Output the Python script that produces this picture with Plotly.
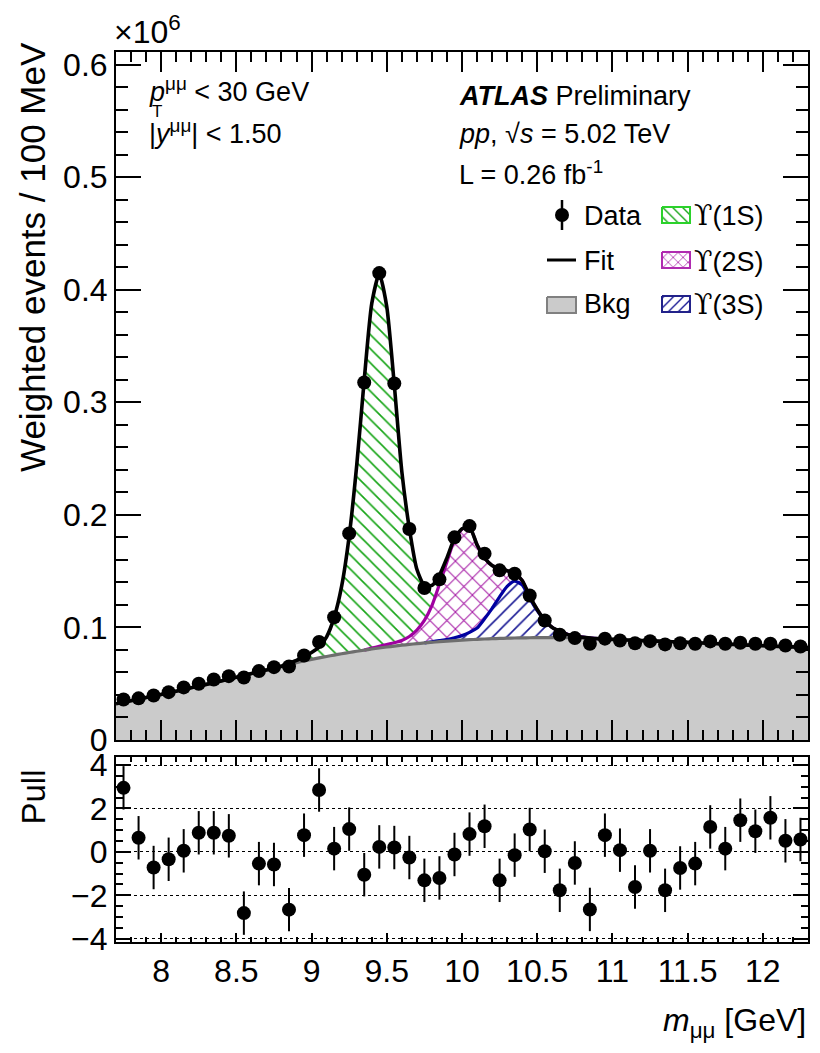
import numpy as np
import plotly.graph_objects as go

W, H = 820, 1053
FONT = "Liberation Sans, Arial, Helvetica, sans-serif"

# ---------------- data: dimuon mass histogram (100 MeV bins), values in units of 1e6
MASS_BINS = np.round(np.arange(7.75, 12.26, 0.1), 2)
DATA = [0.0360, 0.0370, 0.0395, 0.0425, 0.0467, 0.0500, 0.0538, 0.0567, 0.0555, 0.0612,
        0.0647, 0.0653, 0.0751, 0.0870, 0.1090, 0.1835, 0.3175, 0.4147, 0.3166, 0.1874,
        0.1350, 0.1427, 0.1800, 0.1900, 0.1655, 0.1507, 0.1477, 0.1284, 0.1062, 0.0935,
        0.0905, 0.0855, 0.0900, 0.0884, 0.0860, 0.0878, 0.0849, 0.0860, 0.0855, 0.0876,
        0.0855, 0.0864, 0.0855, 0.0855, 0.0840, 0.0831]

PULL = [2.95, 0.65, -0.72, -0.34, 0.05, 0.88, 0.88, 0.74, -2.82, -0.54,
        -0.58, -2.66, 0.77, 2.85, 0.15, 1.05, -1.05, 0.23, 0.20, -0.26,
        -1.31, -1.20, -0.12, 0.82, 1.18, -1.31, -0.15, 1.03, 0.03, -1.77,
        -0.51, -2.65, 0.77, 0.08, -1.62, 0.05, -1.77, -0.74, -0.54, 1.15,
        0.15, 1.46, 0.95, 1.57, 0.51, 0.57]
PULL_ERR = [1.0] * len(PULL)

# ---------------- fit model components sampled along the mass axis
CURVE_MASS = np.round(np.concatenate([np.arange(7.70, 8.81, 0.10),
                                      np.arange(8.85, 10.91, 0.05),
                                      np.arange(11.00, 12.31, 0.10)]), 2)
BKG = [0.0322, 0.0349, 0.0377, 0.0405, 0.0434, 0.0464, 0.0494, 0.0525, 0.0557, 0.0590, 0.0622, 0.0655,
       0.0671, 0.0687, 0.0702, 0.0716, 0.0729, 0.0742, 0.0754, 0.0766, 0.0777, 0.0788,
       0.0798, 0.0808, 0.0817, 0.0826, 0.0834, 0.0842, 0.0849, 0.0856, 0.0862, 0.0868,
       0.0873, 0.0878, 0.0883, 0.0887, 0.0891, 0.0894, 0.0897, 0.0900, 0.0902, 0.0904,
       0.0906, 0.0907, 0.0908, 0.0909, 0.0909, 0.0909, 0.0909, 0.0908, 0.0907, 0.0905, 0.0903, 0.0900,
       0.0894, 0.0888, 0.0883, 0.0878, 0.0873, 0.0867, 0.0861, 0.0855, 0.0849, 0.0843, 0.0837, 0.0832,
       0.0827, 0.0822]

UPS1S_MASS = np.round(np.arange(8.85, 10.01, 0.05), 2)
UPS1S = [0.0012, 0.0020, 0.0040, 0.0062, 0.0097, 0.0175, 0.0333, 0.0600, 0.1033, 0.1650,
         0.2400, 0.3060, 0.3310, 0.3000, 0.2290, 0.1500, 0.0960, 0.0540, 0.0310, 0.0180,
         0.0080, 0.0035, 0.0012, 0.0004]

UPS2S_MASS = np.round(np.arange(9.40, 10.56, 0.05), 2)
UPS2S = [0.0008, 0.0015, 0.0022, 0.0030, 0.0042, 0.0070, 0.0120, 0.0200, 0.0320, 0.0500,
         0.0690, 0.0870, 0.0945, 0.0935, 0.0740, 0.0540, 0.0380, 0.0250, 0.0140, 0.0070,
         0.0040, 0.0020, 0.0010, 0.0004]

UPS3S_MASS = np.round(np.arange(9.80, 10.91, 0.05), 2)
UPS3S = [0.0005, 0.0010, 0.0015, 0.0025, 0.0040, 0.0065, 0.0100, 0.0180, 0.0270, 0.0370,
         0.0460, 0.0505, 0.0470, 0.0350, 0.0240, 0.0150, 0.0090, 0.0055, 0.0030, 0.0015,
         0.0008, 0.0003, 0.0000]


def on_grid(masses, values):
    """Place a peak component onto the common curve grid (zero outside its window)."""
    lookup = {round(float(m), 2): v for m, v in zip(masses, values)}
    return np.array([lookup.get(round(float(m), 2), 0.0) for m in CURVE_MASS])


bkg = np.array(BKG)
s1 = on_grid(UPS1S_MASS, UPS1S)
s2 = on_grid(UPS2S_MASS, UPS2S)
s3 = on_grid(UPS3S_MASS, UPS3S)
stack3 = bkg + s3
stack2 = stack3 + s2
total = stack2 + s1

GREEN = "#16a516"
MAGENTA = "#a51aa5"
NAVY = "#1a1a95"
GREY_FILL = "#cbcbcb"
GREY_LINE = "#6e6e6e"


def hatch(shape, color, size=10, solidity=0.16):
    return dict(shape=shape, fgcolor=color, fgopacity=1, bgcolor="white", size=size, solidity=solidity)


fig = go.Figure()
line0 = dict(width=0, shape="spline", smoothing=0.6)

# stacked fills: background, then 3S, 2S, 1S hatched bands
fig.add_trace(go.Scatter(x=CURVE_MASS, y=bkg, mode="lines", line=dict(color=GREY_FILL, **line0),
                         fill="tozeroy", fillcolor=GREY_FILL, showlegend=False, hoverinfo="skip"))
fig.add_trace(go.Scatter(x=CURVE_MASS, y=stack3, mode="lines", line=dict(color=NAVY, **line0),
                         fill="tonexty", fillcolor="white", fillpattern=hatch("/", NAVY),
                         showlegend=False, hoverinfo="skip"))
fig.add_trace(go.Scatter(x=CURVE_MASS, y=stack2, mode="lines", line=dict(color=MAGENTA, **line0),
                         fill="tonexty", fillcolor="white", fillpattern=hatch("x", MAGENTA, size=12),
                         showlegend=False, hoverinfo="skip"))
fig.add_trace(go.Scatter(x=CURVE_MASS, y=total, mode="lines", line=dict(color=GREEN, **line0),
                         fill="tonexty", fillcolor="white", fillpattern=hatch("\\", GREEN),
                         showlegend=False, hoverinfo="skip"))

# component outlines
win3 = (CURVE_MASS >= 9.75) & (CURVE_MASS <= 10.9)
win2 = (CURVE_MASS >= 9.35) & (CURVE_MASS <= 10.9)
fig.add_trace(go.Scatter(x=CURVE_MASS[win3], y=stack3[win3], mode="lines",
                         line=dict(color="#0000a0", width=3.2, shape="spline", smoothing=0.6),
                         showlegend=False, hoverinfo="skip"))
fig.add_trace(go.Scatter(x=CURVE_MASS[win2], y=stack2[win2], mode="lines",
                         line=dict(color="#a000a0", width=3.2, shape="spline", smoothing=0.6),
                         showlegend=False, hoverinfo="skip"))
fig.add_trace(go.Scatter(x=CURVE_MASS, y=bkg, mode="lines",
                         line=dict(color=GREY_LINE, width=3.2, shape="spline", smoothing=0.6),
                         showlegend=False, hoverinfo="skip"))
fig.add_trace(go.Scatter(x=CURVE_MASS, y=total, mode="lines",
                         line=dict(color="black", width=3.6, shape="spline", smoothing=0.6),
                         showlegend=False, hoverinfo="skip"))

# data points
fig.add_trace(go.Scatter(x=MASS_BINS, y=DATA, mode="markers",
                         marker=dict(color="black", size=14),
                         showlegend=False, hoverinfo="skip"))

# pull panel
fig.add_trace(go.Scatter(x=MASS_BINS, y=PULL, mode="markers", xaxis="x2", yaxis="y2",
                         marker=dict(color="black", size=14),
                         error_y=dict(type="data", array=PULL_ERR, color="black", thickness=2, width=0),
                         showlegend=False, hoverinfo="skip"))

# ---------------- legend glyphs, drawn on a pixel-space overlay
def box(x0, x1, y0, y1):
    return [x0, x1, x1, x0, x0], [y0, y0, y1, y1, y0]

LEG = dict(xaxis="x3", yaxis="y3", showlegend=False, hoverinfo="skip")
fig.add_trace(go.Scatter(x=[562], y=[215], mode="markers", marker=dict(color="black", size=14),
                         error_y=dict(type="data", array=[15], color="black", thickness=2.5, width=0), **LEG))
fig.add_trace(go.Scatter(x=[547, 576], y=[260, 260], mode="lines", line=dict(color="black", width=3), **LEG))
bx, by = box(547, 576, 297, 313)
fig.add_trace(go.Scatter(x=bx, y=by, mode="lines", fill="toself", fillcolor=GREY_FILL,
                         line=dict(color="#808080", width=2), **LEG))
for yc, shape, col, edge in [(215, "\\", GREEN, "#2bd22b"), (260, "x", MAGENTA, "#b02bb0"), (304, "/", NAVY, "#22228a")]:
    bx, by = box(662, 690, yc - 8, yc + 8)
    fig.add_trace(go.Scatter(x=bx, y=by, mode="lines", fill="toself", fillcolor="white",
                             fillpattern=hatch(shape, col, size=7, solidity=0.2),
                             line=dict(color=edge, width=2), **LEG))


def px(x):
    return x / W


def py(y):
    return 1 - y / H


def txt(x, y, s, size=27, xanchor="left", yanchor="middle", angle=0):
    fig.add_annotation(x=px(x), y=py(y), xref="paper", yref="paper", text=s, showarrow=False,
                       xanchor=xanchor, yanchor=yanchor, textangle=angle,
                       font=dict(family=FONT, size=size, color="black"))


UPS = "<span style='font-family:DejaVu Serif'>ϒ</span>"

# upper-left selection text
txt(147, 90, "<i>p</i><sup>μμ</sup> < 30 GeV")
txt(150, 111, "T", size=17)
txt(147, 132, "|<i>y</i><sup>μμ</sup>| < 1.50")

# experiment label block
txt(457, 96, "<b><i>ATLAS</i></b> Preliminary")
txt(457, 134, "<i>pp</i>, √<i>s</i> = 5.02 TeV")
txt(457, 173, "L = 0.26 fb<sup>-1</sup>")

# legend labels
txt(582, 216, "Data")
txt(582, 261, "Fit")
txt(582, 304, "Bkg")
txt(692, 216, UPS + "(1S)")
txt(692, 261, UPS + "(2S)")
txt(692, 304, UPS + "(3S)")

# axis titles and exponent
txt(112, 30, "×10<sup>6</sup>", size=32)
txt(33, 40, "Weighted events / 100 MeV", size=35, xanchor="center", yanchor="top", angle=-90)
txt(33, 768, "Pull", size=33, xanchor="center", yanchor="top", angle=-90)
txt(808, 1022, "<i>m</i><sub>μμ</sub> [GeV]", size=32, xanchor="right")

X_DOM = [116 / W, 808 / W]
axis_common = dict(showline=True, linecolor="black", linewidth=2, mirror="ticks", automargin=False,
                   ticks="inside", tickcolor="black", tickwidth=2, showgrid=False, zeroline=False,
                   tickfont=dict(family=FONT, size=32, color="black"))

fig.update_layout(
    width=W, height=H, margin=dict(l=0, r=0, t=0, b=0, pad=0, autoexpand=False),
    paper_bgcolor="white", plot_bgcolor="rgba(0,0,0,0)",
    xaxis=dict(domain=X_DOM, range=[7.7, 12.3], anchor="y", tick0=8, dtick=0.5, ticklen=20,
               showticklabels=False,
               minor=dict(dtick=0.1, ticklen=10, ticks="inside", tickcolor="black", tickwidth=2),
               **axis_common),
    yaxis=dict(domain=[1 - 740 / H, 1 - 52 / H], range=[0, 0.6111], anchor="x", tick0=0, dtick=0.1,
               ticklen=25,
               minor=dict(dtick=0.02, ticklen=12, ticks="inside", tickcolor="black", tickwidth=2),
               **axis_common),
    xaxis2=dict(domain=X_DOM, range=[7.7, 12.3], anchor="y2", tick0=8, dtick=0.5, ticklen=9,
                minor=dict(dtick=0.1, ticklen=5, ticks="inside", tickcolor="black", tickwidth=2),
                **axis_common),
    yaxis2=dict(domain=[1 - 942 / H, 1 - 757 / H], range=[-4.15, 4.37], anchor="x2",
                tickvals=[-4, -2, 0, 2, 4], ticklen=15,
                minor=dict(dtick=0.5, ticklen=7, ticks="inside", tickcolor="black", tickwidth=2),
                **{k: v for k, v in axis_common.items() if k != "showgrid"},
                showgrid=True, gridcolor="black", griddash="dot", gridwidth=1.2),
    xaxis3=dict(domain=[0, 1], range=[0, W], anchor="y3", visible=False, automargin=False),
    yaxis3=dict(domain=[0, 1], range=[H, 0], anchor="x3", visible=False, automargin=False),
)

fig.write_html("out.html")
